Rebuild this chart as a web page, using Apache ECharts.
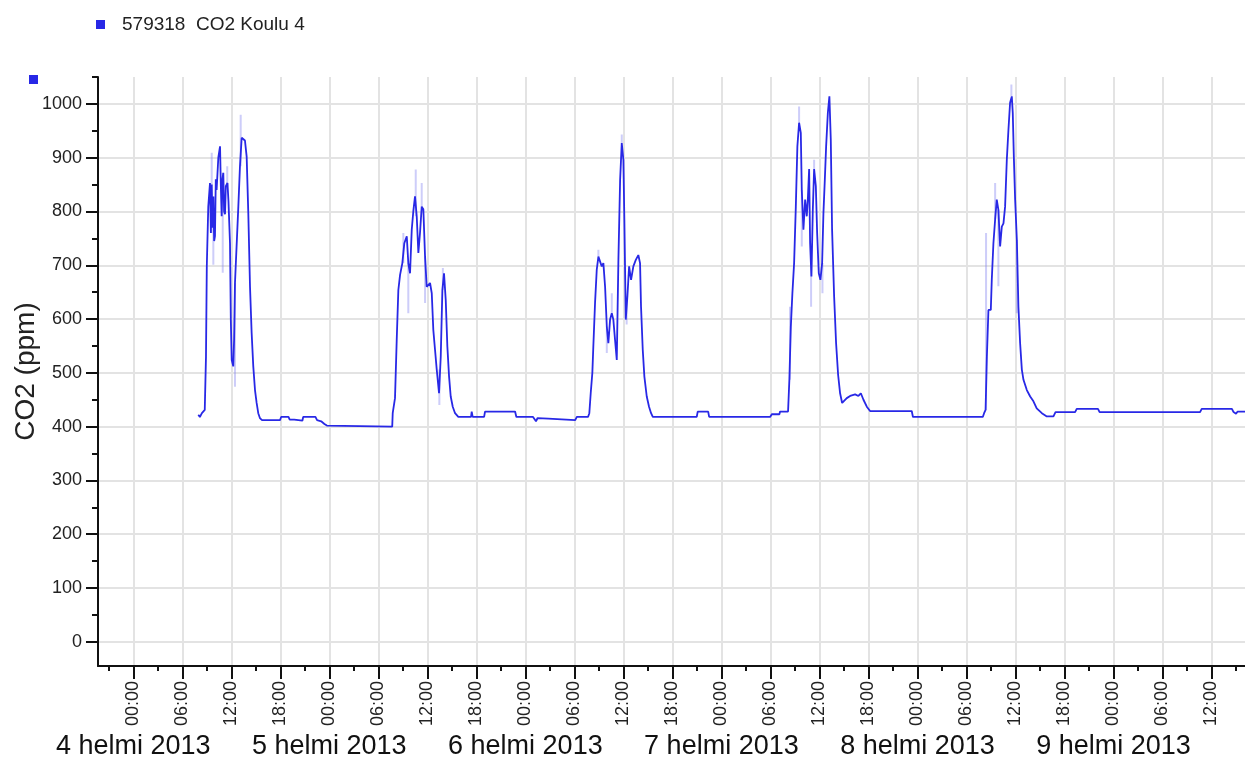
<!DOCTYPE html>
<html><head><meta charset="utf-8">
<script src="https://cdn.jsdelivr.net/npm/echarts@6/dist/echarts.min.js"></script>
<style>html,body{margin:0;padding:0;background:#fff}#c{width:1245px;height:764px}</style>
</head><body><div id="c"></div>
<script>
const seriesName = '579318  CO2 Koulu 4';
const yAxisName = 'CO2 (ppm)';
// hours since 4 helmi 2013 00:00
const hours = [
7.96,8.15,8.4,8.75,8.9,9.0,9.18,9.39,9.5,9.6,9.7,9.8,9.9,10.0,10.1,10.2,10.41,10.62,10.72,10.82,10.92,11.02,11.12,11.23,11.33,11.53,11.65,11.84,11.94,12.05,12.24,12.34,12.45,12.66,12.86,13.06,13.27,13.47,13.67,13.88,14.08,14.29,14.49,14.69,14.9,15.1,15.3,15.5,15.76,17.96,18.1,19.0,19.15,19.7,19.8,20.7,20.8,22.3,22.5,23.0,23.4,23.7,23.85,31.7,
31.76,32.04,32.25,32.45,32.66,32.94,33.18,33.48,33.67,33.88,34.09,34.28,34.49,34.7,34.9,35.1,35.31,35.51,35.72,35.92,36.12,36.33,36.54,36.73,36.94,37.15,37.43,37.64,37.84,38.04,38.25,38.45,38.66,38.86,39.11,39.39,39.79,41.35,41.43,41.55,42.95,43.06,46.74,46.9,48.94,49.1,49.3,49.5,50.8,51.0,54.1,54.3,55.67,
55.83,56.0,56.2,56.32,56.53,56.74,56.94,57.14,57.35,57.55,57.76,57.97,58.16,58.37,58.58,58.77,58.98,59.19,59.39,59.6,59.8,60.0,60.12,60.29,60.49,60.7,60.94,61.22,61.52,61.83,62.04,62.16,62.37,62.57,62.86,63.14,63.39,63.6,68.98,69.1,70.38,70.5,77.96,78.17,79.1,79.18,80.16,
80.32,80.5,80.69,80.9,81.11,81.3,81.51,81.72,81.84,82.04,82.25,82.45,82.58,82.74,82.86,83.02,83.19,83.35,83.56,83.72,83.92,84.12,84.33,84.49,84.66,84.82,85.03,85.22,85.39,85.55,85.8,86.04,86.29,86.53,86.78,87.02,87.35,87.76,88.37,88.77,89.07,89.39,89.8,90.2,95.3,95.45,104.0,
104.16,104.34,104.5,104.69,104.98,105.1,105.3,105.51,105.71,105.91,106.12,106.33,106.53,106.73,106.94,107.14,107.34,107.55,107.67,107.8,107.96,108.17,108.36,108.57,108.78,108.98,109.39,109.8,110.2,110.6,111.23,111.84,112.65,112.9,115.3,115.5,118.1,118.3,130.6,130.8,134.5,134.7,135.0,135.2,136.1
];
const co2 = [
422,418,425,431,530,698,809,853,760,850,770,828,745,754,860,840,900,921,847,791,860,872,800,795,847,853,820,741,599,524,512,561,667,670,809,884,937,935,932,902,797,660,574,512,468,444,425,416,412,412,418,418,413,413,411,411,418,418,412,410,405,402,400,400,
425,453,561,654,682,704,741,754,704,685,766,800,828,791,723,760,809,804,716,660,658,667,648,580,543,506,462,530,654,685,636,549,493,456,437,425,418,418,428,418,418,428,428,418,418,415,410,416,415,412,412,418,418,
425,462,500,549,630,692,716,719,698,704,660,586,555,599,611,599,561,524,710,859,927,896,784,599,642,698,673,698,710,719,704,623,543,493,456,437,425,418,418,428,428,418,418,423,423,428,428,
487,586,648,704,809,921,965,946,840,766,822,791,822,879,741,679,803,879,847,760,685,673,704,797,859,921,983,1014,934,766,642,555,496,462,444,446,453,457,460,457,462,450,437,429,429,418,418,
425,431,530,617,617,673,741,785,822,803,735,772,778,809,896,952,1002,1014,983,902,822,747,623,555,506,487,468,456,447,434,425,419,419,427,427,433,433,427,427,433,433,427,424,428,428
];
// faint min/max spikes around the averaged line
const spikeHours = [9.6,9.8,10.95,11.5,12.45,13.15,33.06,33.67,34.58,35.31,35.72,37.47,37.9,56.94,57.97,58.58,59.8,60.4,80.4,81.51,81.84,82.98,83.35,84.37,104.4,105.51,105.91,107.5,108.17];
const spikeLow  = [760,701,686,847,474,884,704,611,791,809,630,440,654,716,537,611,927,590,487,965,735,623,879,648,431,785,661,1014,611];
const spikeHigh = [909,828,872,884,667,980,760,704,878,853,716,506,695,729,586,648,943,642,623,995,840,741,896,704,760,853,803,1036,747];

const yTickValues = [0,100,200,300,400,500,600,700,800,900,1000];
const yMinorValues = [0,50,100,150,200,250,300,350,400,450,500,550,600,650,700,750,800,850,900,950,1000,1050];
const timeTickValues = [0,6,12,18,24,30,36,42,48,54,60,66,72,78,84,90,96,102,108,114,120,126,132];
const timeMinorValues = [-3,0,3,6,9,12,15,18,21,24,27,30,33,36,39,42,45,48,51,54,57,60,63,66,69,72,75,78,81,84,87,90,93,96,99,102,105,108,111,114,117,120,123,126,129,132,135];
const timeLabels = ['00:00','06:00','12:00','18:00'];
const dayTickValues = [0,24,48,72,96,120];
const dayLabels = ['4 helmi 2013','5 helmi 2013','6 helmi 2013','7 helmi 2013','8 helmi 2013','9 helmi 2013'];

const X_MIN = -4.32, X_MAX = 136.1, Y_MIN = -45, Y_MAX = 1050;
const FONT = "'Liberation Sans', Arial, sans-serif";
const BLUE = '#2828e6';
const points = hours.map((h, i) => [h, co2[i]]);
const spikes = [];
spikeHours.forEach((h, i) => { spikes.push([h, spikeLow[i]], [h, spikeHigh[i]], [h, null]); });

const chart = echarts.init(document.getElementById('c'), null, {renderer: 'canvas'});
const baseX = {type: 'value', gridIndex: 0, position: 'bottom', min: X_MIN, max: X_MAX, splitNumber: 24};
const baseY = {type: 'value', gridIndex: 0, position: 'left', min: Y_MIN, max: Y_MAX, splitNumber: 11};
chart.setOption({
  animation: false,
  backgroundColor: '#fff',
  textStyle: {fontFamily: FONT},
  grid: {left: 98, right: 0, top: 77, bottom: 98, containLabel: false, outerBoundsMode: 'none'},
  legend: {
    data: [seriesName], left: 91, top: 10, icon: 'rect', itemWidth: 9, itemHeight: 9,
    textStyle: {fontFamily: FONT, fontSize: 19, color: '#222', padding: [0, 0, 8, 12]}
  },
  graphic: [{type: 'rect', left: 29, top: 75, shape: {width: 9, height: 9}, style: {fill: BLUE}}],
  xAxis: [
    Object.assign({}, baseX, {
      minInterval: 6, maxInterval: 6,
      axisLine: {show: true, onZero: false, lineStyle: {color: '#111', width: 2}},
      axisTick: {show: true, length: 13, customValues: timeTickValues, lineStyle: {color: '#111', width: 2}},
      axisLabel: {show: true, rotate: 90, margin: 15, fontSize: 18, color: '#222', fontFamily: FONT,
        customValues: timeTickValues,
        formatter: v => timeLabels[((Math.round(v) % 24) + 24) % 24 / 6] || ''},
      splitLine: {show: true, lineStyle: {color: '#e3e3e3', width: 2}}
    }),
    Object.assign({}, baseX, {
      minInterval: 3, maxInterval: 3,
      axisLine: {show: false, onZero: false},
      axisTick: {show: true, length: 5, customValues: timeMinorValues, lineStyle: {color: '#111', width: 2}},
      axisLabel: {show: false}, splitLine: {show: false}
    }),
    Object.assign({}, baseX, {
      minInterval: 24, maxInterval: 24,
      axisLine: {show: false, onZero: false}, axisTick: {show: false},
      axisLabel: {show: true, margin: 67, fontSize: 27, color: '#111', fontFamily: FONT,
        customValues: dayTickValues,
        formatter: v => dayLabels[Math.round(v / 24)] || ''},
      splitLine: {show: false}
    })
  ],
  yAxis: [
    Object.assign({}, baseY, {
      minInterval: 100, maxInterval: 100,
      name: yAxisName, nameLocation: 'middle', nameGap: 58, nameMoveOverlap: false,
      nameTextStyle: {fontSize: 28, color: '#222', fontFamily: FONT},
      axisLine: {show: true, onZero: false, lineStyle: {color: '#111', width: 2}},
      axisTick: {show: true, length: 12, customValues: yTickValues, lineStyle: {color: '#111', width: 2}},
      axisLabel: {show: true, margin: 16, fontSize: 18, color: '#222', fontFamily: FONT,
        customValues: yTickValues, formatter: v => String(v)},
      splitLine: {show: true, lineStyle: {color: '#e3e3e3', width: 2}}
    }),
    Object.assign({}, baseY, {
      minInterval: 50, maxInterval: 50,
      axisLine: {show: false, onZero: false},
      axisTick: {show: true, length: 6, customValues: yMinorValues, lineStyle: {color: '#111', width: 2}},
      axisLabel: {show: false}, splitLine: {show: false}
    })
  ],
  series: [{
    name: 'spikes', type: 'line', xAxisIndex: 0, yAxisIndex: 0,
    data: spikes, showSymbol: false, symbol: 'none', connectNulls: false, silent: true,
    lineStyle: {color: 'rgba(130,130,240,0.4)', width: 2}, z: 1
  }, {
    name: seriesName, type: 'line', xAxisIndex: 0, yAxisIndex: 0,
    data: points, showSymbol: false, symbol: 'none', clip: true,
    lineStyle: {color: BLUE, width: 1.8}, itemStyle: {color: BLUE}, z: 2
  }]
});
</script></body></html>
